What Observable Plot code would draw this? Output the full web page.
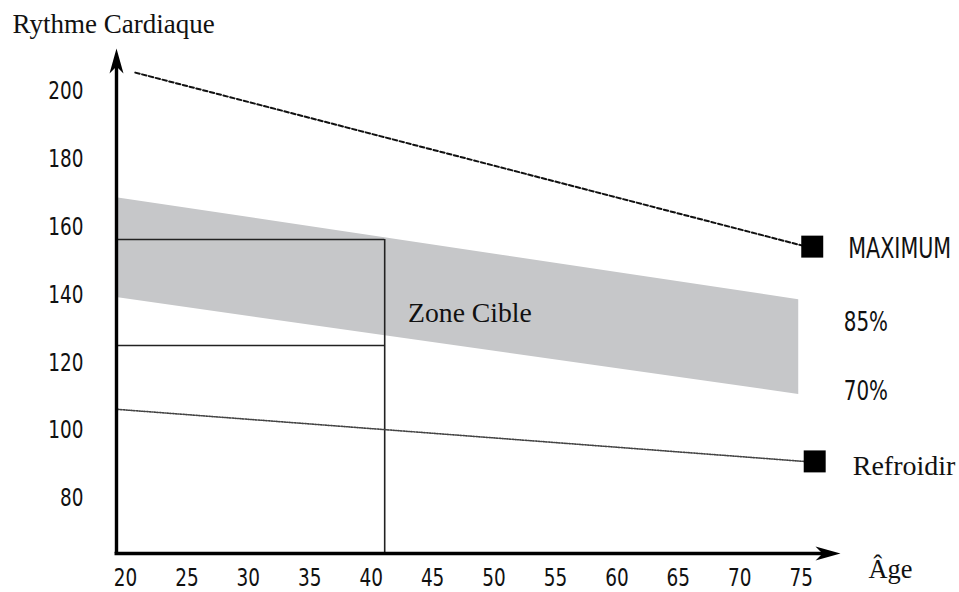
<!DOCTYPE html>
<html>
<head>
<meta charset="utf-8">
<script src="https://cdn.jsdelivr.net/npm/d3@7"></script>
<script src="https://cdn.jsdelivr.net/npm/@observablehq/plot@0.6"></script>
<style>
  html, body { margin: 0; padding: 0; background: #fff; }
  #chart svg { display: block; }
</style>
</head>
<body>
<div id="chart"></div>
<script>
// ---- data ----
const xTicks = [20, 25, 30, 35, 40, 45, 50, 55, 60, 65, 70, 75];
const yTicks = [80, 100, 120, 140, 160, 180, 200];
const ageDomain = [19.27, 78.2];
const hrDomain = [63.8, 212.4];

const maxAges = [20.8, 75.1];
const maxRates = [205.3, 154.4];
const coolAges = [19.4, 75.2];
const coolRates = [106.2, 90.9];
const bandAges = [19.27, 74.8];
const band85 = [168.5, 138.5];
const band70 = [139.1, 110.6];
const exampleAge = 41.1;
const exampleHigh = 156.2;
const exampleLow = 125.0;
const markerAges = [75.9, 76.1];
const markerRates = [154.1, 90.9];
const markerLabels = ["MAXIMUM", "Refroidir"];
const pctLabels = ["85%", "70%"];
const pctRates = [132.4, 112.1];
const zoneLabel = "Zone Cible";
const zoneAge = 43.0;
const zoneRate = 134.4;

// ---- tables built from arrays ----
const maxLine = maxAges.map((a, i) => ({age: a, hr: maxRates[i]}));
const coolLine = coolAges.map((a, i) => ({age: a, hr: coolRates[i]}));
const band = bandAges.map((a, i) => ({age: a, hi: band85[i], lo: band70[i]}));
const markers = markerAges.map((a, i) => ({age: a, hr: markerRates[i], label: markerLabels[i]}));
const pcts = pctLabels.map((l, i) => ({age: bandAges[1], hr: pctRates[i], label: l}));

const sans = "'Liberation Sans Narrow', 'Arial Narrow', 'DejaVu Sans Condensed', sans-serif";
const serif = "'Liberation Serif', 'Times New Roman', serif";

const arrowHead = {
  draw(context, l, r) {
    context.moveTo(0, -l);
    context.lineTo(r, 0);
    context.lineTo(0, -l * 0.28);
    context.lineTo(-r, 0);
    context.closePath();
  }
};

const chart = Plot.plot({
  width: 959,
  height: 592,
  marginLeft: 116,
  marginRight: 119,
  marginTop: 48,
  marginBottom: 39,
  style: {fontFamily: sans, fontSize: "25px", color: "#111", background: "#fff"},
  x: {domain: ageDomain, label: null},
  y: {domain: hrDomain, label: null},
  marks: [
    // target zone band
    Plot.areaY(band, {x: "age", y1: "lo", y2: "hi", fill: "#c6c7c9"}),
    // example rectangle
    Plot.ruleY([exampleHigh, exampleLow], {x1: ageDomain[0], x2: exampleAge, stroke: "#222", strokeWidth: 1.6}),
    Plot.ruleX([exampleAge], {y1: hrDomain[0], y2: exampleHigh, stroke: "#222", strokeWidth: 1.6}),
    // maximum line (dashed)
    Plot.line(maxLine, {x: "age", y: "hr", stroke: "#111", strokeWidth: 2, strokeDasharray: "4.5,2.5"}),
    // cool-down line (dotted)
    Plot.line(coolLine, {x: "age", y: "hr", stroke: "#444", strokeWidth: 1.6, strokeDasharray: "1.3,1.3"}),
    // markers
    Plot.dot(markers, {x: "age", y: "hr", symbol: "square", r: 12.4, fill: "#000", stroke: "none"}),
    Plot.text(markers.slice(0, 1), {x: "age", y: "hr", text: "label", dx: 36, dy: 2, textAnchor: "start", fontSize: 28, fontFamily: sans}),
    Plot.text(markers.slice(1), {x: "age", y: "hr", text: "label", dx: 38, dy: 5, textAnchor: "start", fontSize: 28, fontFamily: serif}),
    Plot.text(pcts, {x: "age", y: "hr", text: "label", dx: 45, dy: 2, textAnchor: "start", fontSize: 27, fontFamily: sans}),
    Plot.text([zoneLabel], {x: zoneAge, y: zoneRate, text: d => d, textAnchor: "start", fontSize: 27.7, fontFamily: serif}),
    // axes lines with arrows
    Plot.ruleX([ageDomain[0]], {y1: hrDomain[0], y2: hrDomain[1] - 4, stroke: "#000", strokeWidth: 3.4}),
    Plot.ruleY([hrDomain[0]], {x1: ageDomain[0] - 0.12, x2: ageDomain[1] - 1, stroke: "#000", strokeWidth: 3.4}),
    Plot.vector([[ageDomain[0], hrDomain[1]]], {x: d => d[0], y: d => d[1], rotate: 0, length: 25, r: 7, anchor: "end", shape: arrowHead, fill: "#000", stroke: "none"}),
    Plot.vector([[ageDomain[1], hrDomain[0]]], {x: d => d[0], y: d => d[1], rotate: 90, length: 25, r: 7, anchor: "end", shape: arrowHead, fill: "#000", stroke: "none"}),
    // axis titles
    Plot.text(["Rythme Cardiaque"], {x: ageDomain[0], y: hrDomain[1], text: d => d, dx: -104, dy: -24, textAnchor: "start", fontSize: 27, fontFamily: serif}),
    Plot.text(["Âge"], {x: ageDomain[1], y: hrDomain[0], text: d => d, dx: 28, dy: 16, textAnchor: "start", fontSize: 26.4, fontFamily: serif}),
    // tick labels
    Plot.axisX({ticks: xTicks, tickSize: 0, tickPadding: 15, fontSize: 25, fontFamily: sans, label: null}),
    Plot.axisY({ticks: yTicks, tickSize: 0, tickPadding: 33, fontSize: 25, fontFamily: sans, label: null})
  ]
});
document.getElementById("chart").appendChild(chart);

// The reference uses a condensed sans face; narrow the sans glyphs about their anchor.
const squeeze = 0.82;
d3.select(chart).selectAll("text").each(function () {
  let el = this, fam = null;
  while (el && el !== chart && !fam) { fam = el.getAttribute && el.getAttribute("font-family"); el = el.parentNode; }
  if (!fam || !/Narrow/.test(fam)) return;
  const t = this.getAttribute("transform") || "";
  const x = parseFloat(this.getAttribute("x")) || 0;
  this.setAttribute("transform", `${t} translate(${x},0) scale(${squeeze},1) translate(${-x},0)`.trim());
});
</script>
</body>
</html>
